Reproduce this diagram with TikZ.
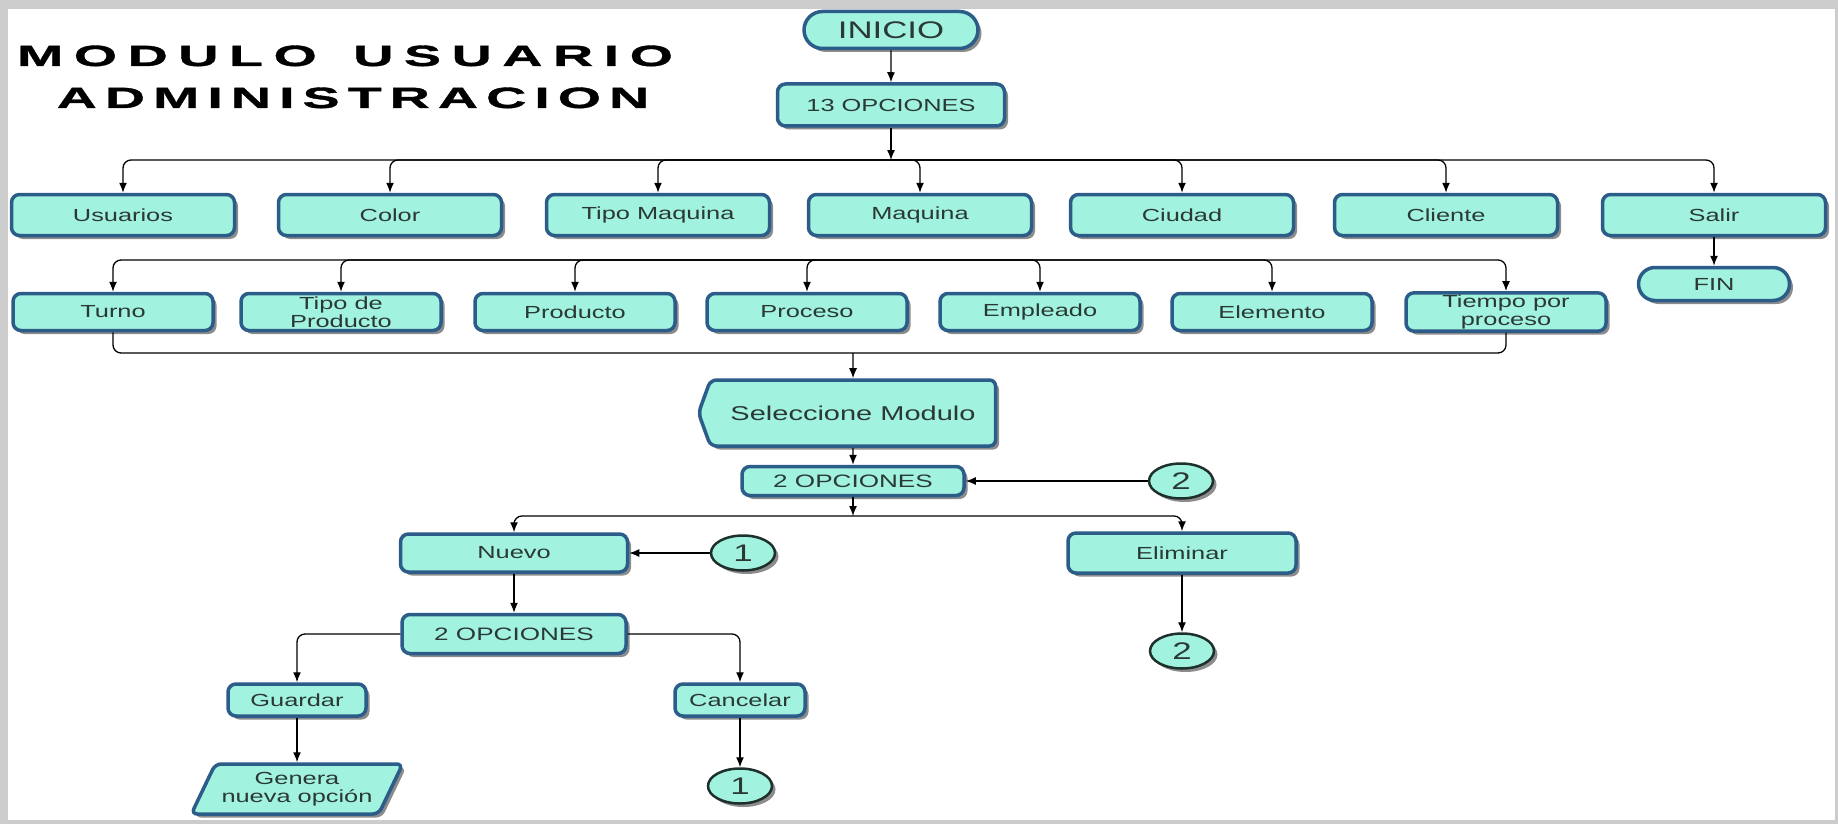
\documentclass[tikz,border=0pt]{standalone}
\usepackage{fontspec}
\setmainfont{Liberation Sans}[FakeStretch=1.45]
\newfontfamily\titlefont{Liberation Sans}[FakeStretch=1.9, FakeBold=1.2]
\usetikzlibrary{shapes.misc, shapes.geometric, shapes.symbols, shadows, arrows.meta}
\definecolor{boxfill}{HTML}{A2F2E0}
\definecolor{boxline}{HTML}{2C5C88}
\definecolor{boxtext}{HTML}{2A3934}
\definecolor{ringline}{HTML}{1E302B}
% letters of the title set apart
\newcommand\spreadtext[2][8pt]{\def\spreadgap{#1}\spreadstep#2\relax}
\def\spreadstep#1{\ifx\relax#1\unskip\else#1\hskip\spreadgap\expandafter\spreadstep\fi}

\begin{document}
\begin{tikzpicture}[x=1pt, y=-1pt, >={Latex[length=10pt, width=8pt]}]
    \tikzstyle{base_box} = [fill=boxfill, draw=boxline, line width=3.5pt, text=boxtext, inner sep=2pt, align=center,
        font=\fontsize{17.5}{18}\selectfont, drop shadow={shadow xshift=3.5pt, shadow yshift=-3.5pt, fill=black, opacity=0.45}]
    \tikzstyle{proc_box} = [base_box, rectangle, rounded corners=8pt]
    \tikzstyle{term_box} = [base_box, rounded rectangle]
    \tikzstyle{disp_box} = [base_box, signal, signal to=west, signal pointer angle=140, rounded corners=6pt]
    \tikzstyle{io_box} = [base_box, trapezium, trapezium left angle=59, trapezium right angle=121, trapezium stretches=true, rounded corners=6pt]
    \tikzstyle{conn_ring} = [base_box, ellipse, draw=ringline, line width=2.5pt, font=\fontsize{24}{24}\selectfont, inner sep=0pt, minimum width=64pt, minimum height=35pt]
    \tikzstyle{row_one} = [proc_box, minimum width=223pt, minimum height=41pt]
    \tikzstyle{row_two} = [proc_box, minimum width=200pt, minimum height=37pt]
    \tikzstyle{flow_arrow} = [->, black, line width=1.3pt, rounded corners=8pt]
    \tikzstyle{bus_line} = [black, line width=1.3pt, rounded corners=8pt]
    \tikzstyle{title_text} = [anchor=base, inner sep=0pt, font=\titlefont\bfseries\fontsize{29.3}{30}\selectfont]

    % frame
    \fill[gray!40] (0,0) rectangle (1838,824);
    \fill[white] (8,9) rectangle (1835,820);
    \useasboundingbox (0,0) rectangle (1838,824);

    % title
    \node[title_text] (title_a) at (345,66) {\spreadtext[10.5pt]{MODULO~USUARIO}};
    \node[title_text] (title_b) at (353,108) {\spreadtext{ADMINISTRACION}};

    % start
    \node[term_box, minimum width=178pt, minimum height=37pt, font=\fontsize{24}{24}\selectfont] (inicio) at (891,30) {INICIO};
    \node[proc_box, minimum width=227pt, minimum height=42pt] (op13) at (891,105) {13 OPCIONES};
    \coordinate (bus_a) at (891,160);

    % first row
    \node[row_one] (usuarios) at (123,215) {Usuarios};
    \node[row_one] (color) at (390,215) {Color};
    \node[row_one] (tipomaq) at (658,215) {Tipo Maquina};
    \node[row_one] (maquina) at (920,215) {Maquina};
    \node[row_one] (ciudad) at (1182,215) {Ciudad};
    \node[row_one] (cliente) at (1446,215) {Cliente};
    \node[row_one] (salir) at (1714,215) {Salir};
    \node[term_box, minimum width=155pt, minimum height=33pt] (fin) at (1714,284) {FIN};

    % second row
    \coordinate (bus_b) at (810,260);
    \node[row_two] (turno) at (113,312) {Turno};
    \node[row_two] (tipoprod) at (341,312) {Tipo de\\Producto};
    \node[row_two] (producto) at (575,312) {Producto};
    \node[row_two] (proceso) at (807,312) {Proceso};
    \node[row_two] (empleado) at (1040,312) {Empleado};
    \node[row_two] (elemento) at (1272,312) {Elemento};
    \node[row_two] (tiempo) at (1506,312) {Tiempo por\\proceso};
    \coordinate (bus_c) at (853,353);

    % module choice
    \node[disp_box, minimum width=297pt, minimum height=66pt, font=\fontsize{20}{20}\selectfont] (selec) at (853,413) {Seleccione Modulo};
    \node[proc_box, minimum width=222pt, minimum height=29pt, font=\fontsize{18}{18}\selectfont] (op2a) at (853,481) {2 OPCIONES};
    \node[conn_ring] (ring_2a) at (1181,481) {2};
    \coordinate (bus_d) at (853,516);

    \node[proc_box, minimum width=227pt, minimum height=38pt] (nuevo) at (514,553) {Nuevo};
    \node[conn_ring] (ring_1a) at (743,553) {1};
    \node[proc_box, minimum width=228pt, minimum height=40pt] (eliminar) at (1182,553) {Eliminar};
    \node[conn_ring] (ring_2b) at (1182,651) {2};

    \node[proc_box, minimum width=224pt, minimum height=39pt, font=\fontsize{18}{18}\selectfont] (op2b) at (514,634) {2 OPCIONES};
    \node[proc_box, minimum width=138pt, minimum height=32pt] (guardar) at (297,700) {Guardar};
    \node[proc_box, minimum width=130pt, minimum height=32pt] (cancelar) at (740,700) {Cancelar};
    \node[io_box, minimum width=212pt, minimum height=50pt] (genera) at (297,789) {Genera\\nueva opción};
    \node[conn_ring] (ring_1b) at (740,786) {1};

    % connectors
    \draw[flow_arrow] (inicio) -- (op13);
    \draw[flow_arrow] (op13) -- (bus_a);
    \foreach \n in {usuarios, color, tipomaq, maquina, ciudad, cliente, salir}
        \draw[flow_arrow] (bus_a) -| (\n);
    \draw[flow_arrow] (salir) -- (fin);
    \foreach \n in {turno, tipoprod, producto, proceso, empleado, elemento, tiempo}
        \draw[flow_arrow] (bus_b) -| (\n);
    \draw[bus_line] (turno) |- (bus_c);
    \draw[bus_line] (tiempo) |- (bus_c);
    \draw[flow_arrow] (bus_c) -- (selec);
    \draw[flow_arrow] (selec) -- (op2a);
    \draw[flow_arrow] (ring_2a) -- (op2a);
    \draw[flow_arrow] (op2a) -- (bus_d);
    \draw[flow_arrow] (bus_d) -| (nuevo);
    \draw[flow_arrow] (bus_d) -| (eliminar);
    \draw[flow_arrow] (ring_1a) -- (nuevo);
    \draw[flow_arrow] (eliminar) -- (ring_2b);
    \draw[flow_arrow] (nuevo) -- (op2b);
    \draw[flow_arrow] (op2b) -| (guardar);
    \draw[flow_arrow] (op2b) -| (cancelar);
    \draw[flow_arrow] (guardar) -- (genera);
    \draw[flow_arrow] (cancelar) -- (ring_1b);
\end{tikzpicture}
\end{document}
